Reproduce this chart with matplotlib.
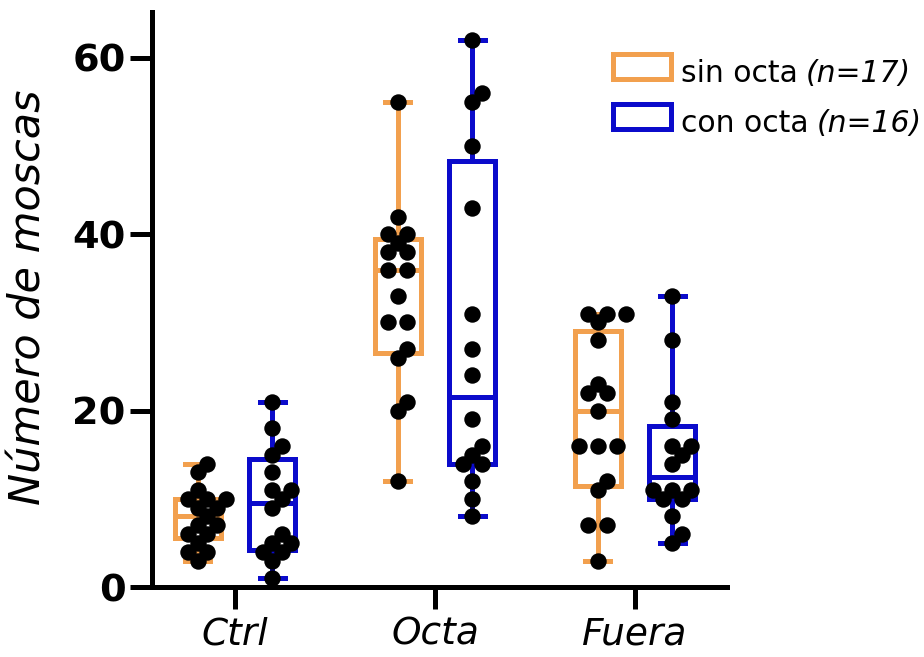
import numpy as np
import matplotlib.pyplot as plt
from matplotlib.patches import Rectangle
from matplotlib.offsetbox import AnchoredOffsetbox, HPacker, VPacker, TextArea, DrawingArea

# data
groups = ['Ctrl', 'Octa', 'Fuera']
sin_octa = [
    [3, 4, 4, 5, 6, 6, 7, 7, 8, 9, 9, 10, 10, 10, 11, 13, 14],
    [12, 20, 21, 26, 27, 30, 30, 33, 36, 36, 38, 38, 39, 40, 40, 42, 55],
    [3, 7, 7, 11, 12, 16, 16, 16, 20, 22, 22, 23, 28, 30, 31, 31, 31],
]
con_octa = [
    [1, 3, 4, 4, 5, 5, 6, 9, 10, 11, 11, 13, 15, 16, 18, 21],
    [8, 10, 12, 14, 14, 15, 16, 19, 24, 27, 31, 43, 50, 55, 56, 62],
    [5, 6, 8, 10, 10, 11, 11, 11, 14, 15, 16, 16, 19, 21, 28, 33],
]
series_names = ['sin octa', 'con octa']
series_n = ['(n=17)', '(n=16)']
yticks = [0, 20, 40, 60]

colors = ['#F2A04E', '#0B0BCB']
offsets = [-0.187, 0.187]
lw = 3.6

fig = plt.figure(figsize=(9.24, 6.57), dpi=100)
ax = fig.add_axes([152/924, 70/657, 575/924, 575/657])
ax.set_xlim(-0.415, 2.46)
ax.set_ylim(0, 65.2)


def box_stats(vals):
    # prism style quartiles
    q1, med, q3 = np.percentile(vals, [25, 50, 75], method='weibull')
    return dict(med=med, q1=q1, q3=q3, whislo=min(vals), whishi=max(vals), fliers=[])


def swarm(center, vals, slot=19.0, min_dist=12.5, step=9.5):
    # simple beeswarm, worked out in pixels
    p0 = ax.transData.transform((center, 0))
    p1 = ax.transData.transform((center + 1, 1))
    sx, sy = p1 - p0
    placed = []
    xs, ys = [], []
    for v in sorted(set(vals)):
        k = vals.count(v)
        # candidate rows: different gaps and shifts, try the narrowest first
        cands = []
        for gap in [slot, 2 * slot]:
            for j in range(0, 30):
                for c in ([0.0] if j == 0 else [j * step, -j * step]):
                    row = np.array([c + (i - (k - 1) / 2) * gap for i in range(k)])
                    cands.append(row)
        cands.sort(key=lambda r: np.max(np.abs(r)))
        for row in cands:
            ok = True
            for (px, py) in placed:
                dy = (v - py) * sy
                if np.any(np.hypot(row - px, dy) < min_dist):
                    ok = False
                    break
            if ok:
                break
        for r in row:
            placed.append((r, v))
            xs.append(center + r / sx)
            ys.append(v)
    return xs, ys


for s, data in enumerate([sin_octa, con_octa]):
    pos = [i + offsets[s] for i in range(len(groups))]
    c = colors[s]
    lp = dict(color=c, lw=lw, solid_joinstyle='miter')
    ax.bxp([box_stats(d) for d in data], positions=pos, widths=0.23, capwidths=0.125,
           showfliers=False, manage_ticks=False,
           boxprops=lp, whiskerprops=lp, capprops=lp, medianprops=lp)
    for p, d in zip(pos, data):
        xs, ys = swarm(p, d)
        ax.scatter(xs, ys, s=140, color='black', lw=0, zorder=3, clip_on=False)

for side in ['top', 'right']:
    ax.spines[side].set_visible(False)
for side in ['left', 'bottom']:
    ax.spines[side].set_linewidth(lw)

ax.set_xticks(range(len(groups)))
ax.set_xticklabels(groups, fontsize=27, style='italic')
ax.set_yticks(yticks)
ax.set_yticklabels([str(t) for t in yticks], fontsize=27.5, fontweight='bold')
ax.tick_params(axis='both', length=16, width=lw, pad=3)
ax.tick_params(axis='x', pad=5)

ax.set_ylabel('Número de moscas', fontsize=31, style='italic')
ax.yaxis.set_label_coords(-0.178, 0.504)

# legend with mixed upright / italic text
rows = []
for s in range(2):
    da = DrawingArea(46, 21.5, 0, 0)
    da.add_artist(Rectangle((lw / 2, lw / 2), 46 - lw, 21.5 - lw, facecolor='white',
                            edgecolor=colors[s], lw=lw))
    t1 = TextArea(series_names[s], textprops=dict(fontsize=21.5))
    t2 = TextArea(series_n[s], textprops=dict(fontsize=21.5, style='italic'))
    txt = HPacker(children=[t1, t2], align='baseline', pad=0, sep=6)
    rows.append(HPacker(children=[da, txt], align='baseline', pad=0, sep=5))
leg = VPacker(children=rows, align='left', pad=0, sep=10)
anch = AnchoredOffsetbox(loc='upper left', child=leg, frameon=False, pad=0, borderpad=0,
                         bbox_to_anchor=(610/924, 1 - 52/657),
                         bbox_transform=fig.transFigure)
fig.add_artist(anch)

fig.savefig('out.png', dpi=100)
